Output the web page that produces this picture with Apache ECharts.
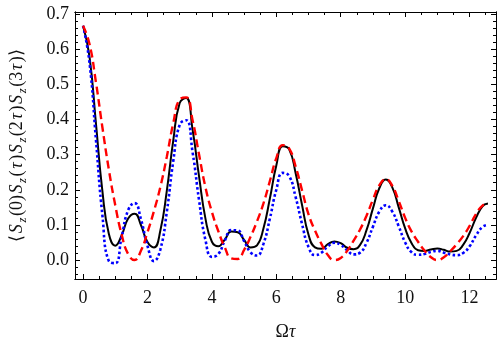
<!DOCTYPE html>
<html>
<head>
<meta charset="utf-8">
<script src="https://cdn.jsdelivr.net/npm/echarts@6/dist/echarts.min.js"></script>
<style>
  html, body { margin: 0; padding: 0; background: #fff; }
  #chart { width: 498px; height: 346px; }
</style>
</head>
<body>
<div id="chart"></div>
<script>
// Omega*tau sample points
var xs = [0, 0.2, 0.4, 0.6, 0.8, 1.0, 1.2, 1.4, 1.6, 1.8,
  2.0, 2.2, 2.4, 2.6, 2.8, 3.0, 3.2, 3.4, 3.6, 3.8,
  4.0, 4.2, 4.4, 4.6, 4.8, 5.0, 5.2, 5.4, 5.6, 5.8,
  6.0, 6.2, 6.4, 6.6, 6.8, 7.0, 7.2, 7.4, 7.6, 7.8,
  8.0, 8.2, 8.4, 8.6, 8.8, 9.0, 9.2, 9.4, 9.6, 9.8,
  10.0, 10.2, 10.4, 10.6, 10.8, 11.0, 11.2, 11.4, 11.6, 11.8,
  12.0, 12.2, 12.4, 12.57];

// black solid curve
var solidBlack = [0.667, 0.579, 0.389, 0.197, 0.075, 0.041, 0.071, 0.118, 0.132, 0.099,
  0.051, 0.036, 0.084, 0.197, 0.340, 0.447, 0.461, 0.371, 0.239, 0.118,
  0.052, 0.039, 0.058, 0.081, 0.079, 0.057, 0.036, 0.042, 0.090, 0.175,
  0.269, 0.324, 0.315, 0.247, 0.156, 0.072, 0.036, 0.032, 0.045, 0.053,
  0.048, 0.035, 0.031, 0.043, 0.085, 0.147, 0.205, 0.229, 0.207, 0.150,
  0.090, 0.048, 0.028, 0.026, 0.030, 0.033, 0.029, 0.024, 0.026, 0.043,
  0.077, 0.120, 0.153, 0.161];

// red dashed curve
var dashedRed = [0.667, 0.615, 0.506, 0.378, 0.258, 0.156, 0.072, 0.017, 0.000, 0.027,
  0.079, 0.139, 0.208, 0.294, 0.389, 0.457, 0.463, 0.398, 0.301, 0.207,
  0.137, 0.082, 0.036, 0.005, 0.003, 0.029, 0.066, 0.110, 0.161, 0.225,
  0.290, 0.327, 0.317, 0.266, 0.198, 0.130, 0.084, 0.046, 0.014, 0.000,
  0.006, 0.026, 0.055, 0.087, 0.126, 0.172, 0.213, 0.230, 0.211, 0.168,
  0.120, 0.081, 0.052, 0.027, 0.008, 0.000, 0.008, 0.025, 0.045, 0.068,
  0.097, 0.131, 0.155, 0.161];

// blue dotted curve
var dottedBlue = [0.667, 0.562, 0.343, 0.128, -0.003, -0.009, 0.067, 0.142, 0.162, 0.115,
  0.040, -0.003, 0.030, 0.137, 0.281, 0.385, 0.398, 0.307, 0.171, 0.057,
  0.009, 0.017, 0.055, 0.085, 0.084, 0.054, 0.022, 0.013, 0.046, 0.118,
  0.200, 0.248, 0.239, 0.179, 0.102, 0.037, 0.014, 0.021, 0.039, 0.049,
  0.043, 0.028, 0.016, 0.021, 0.049, 0.095, 0.138, 0.156, 0.138, 0.096,
  0.050, 0.022, 0.015, 0.017, 0.023, 0.026, 0.021, 0.016, 0.014, 0.020,
  0.039, 0.070, 0.094, 0.100];

var xTicks = [0, 2, 4, 6, 8, 10, 12];
var yTicks = [0, 0.1, 0.2, 0.3, 0.4, 0.5, 0.6, 0.7];

var xMin = -0.25, xMax = 12.82;
var yMin = -0.054, yMax = 0.706;

var xMinor = [];
for (var i = 0; i <= 25; i++) { if (i % 4) xMinor.push(i * 0.5); }
var yMinor = [];
for (var j = -2; j <= 35; j++) { if (j % 5) yMinor.push(+(j * 0.02).toFixed(2)); }

var serif = 'Liberation Serif';
var ink = '#000';
var txt = '#111';

function xAxisDef(pos, ticks, len, withLabels) {
  var a = {
    type: 'value', position: pos, min: xMin, max: xMax,
    splitLine: { show: false },
    axisLine: { show: true, onZero: false, lineStyle: { color: ink, width: 1 } },
    axisTick: { show: true, inside: true, length: len, customValues: ticks, lineStyle: { color: ink, width: 1 } },
    axisLabel: { show: false }
  };
  if (withLabels) {
    a.axisLabel = {
      show: true, customValues: ticks, margin: 10,
      fontFamily: serif, fontSize: 18, color: txt,
      formatter: function (v) { return String(Math.round(v)); }
    };
    a.name = '{o|Ω}{t|τ}';
    a.nameLocation = 'middle';
    a.nameGap = 44;
    a.nameTextStyle = {
      rich: {
        o: { fontFamily: serif, fontSize: 18, color: txt },
        t: { fontFamily: serif, fontSize: 18, fontStyle: 'italic', color: txt }
      }
    };
  }
  return a;
}

function yAxisDef(pos, ticks, len, withLabels) {
  var a = {
    type: 'value', position: pos, min: yMin, max: yMax,
    splitLine: { show: false },
    axisLine: { show: true, onZero: false, lineStyle: { color: ink, width: 1 } },
    axisTick: { show: true, inside: true, length: len, customValues: ticks, lineStyle: { color: ink, width: 1 } },
    axisLabel: { show: false }
  };
  if (withLabels) {
    a.axisLabel = {
      show: true, customValues: ticks, margin: 6,
      fontFamily: serif, fontSize: 18, color: txt,
      formatter: function (v) { return v.toFixed(1); }
    };
    a.name = '{m|⟨}{i|S}{s|z}{m|(0)}{i|S}{s|z}{m|(}{i|τ}{m|)}{i|S}{s|z}{m|(2}{i|τ}{m|)}{i|S}{s|z}{m|(3}{i|τ}{m|)⟩}';
    a.nameLocation = 'middle';
    a.nameRotate = 90;
    a.nameGap = 46;
    var pad = [0, 0.8, 0, 0.8];
    a.nameTextStyle = {
      rich: {
        m: { fontFamily: serif, fontSize: 18, color: txt, lineHeight: 24, verticalAlign: 'middle', padding: pad },
        i: { fontFamily: serif, fontSize: 18, fontStyle: 'italic', color: txt, lineHeight: 24, verticalAlign: 'middle', padding: pad },
        s: { fontFamily: serif, fontSize: 12.5, fontStyle: 'italic', color: txt, lineHeight: 24, verticalAlign: 'bottom', padding: pad }
      }
    };
  }
  return a;
}

function pairs(ys) {
  return xs.map(function (x, k) { return [x, ys[k]]; });
}

var chart = echarts.init(document.getElementById('chart'), null, { renderer: 'canvas' });
chart.setOption({
  backgroundColor: '#fff',
  animation: false,
  grid: { left: 62, right: 2, top: 12, bottom: 64 },
  xAxis: [
    xAxisDef('bottom', xTicks, 5, true),
    xAxisDef('bottom', xMinor, 3, false),
    xAxisDef('top', xTicks, 5, false),
    xAxisDef('top', xMinor, 3, false)
  ],
  yAxis: [
    yAxisDef('left', yTicks, 5, true),
    yAxisDef('left', yMinor, 3, false),
    yAxisDef('right', yTicks, 5, false),
    yAxisDef('right', yMinor, 3, false)
  ],
  series: [
    {
      name: 'solid', type: 'line', data: pairs(solidBlack), smooth: 0.5,
      showSymbol: false, clip: true,
      lineStyle: { color: '#000', width: 2 }
    },
    {
      name: 'dotted', type: 'line', data: pairs(dottedBlue), smooth: 0.5,
      showSymbol: false, clip: true,
      lineStyle: { color: '#0000ff', width: 2.6, type: [2.6, 2.4] }
    },
    {
      name: 'dashed', type: 'line', data: pairs(dashedRed), smooth: 0.5,
      showSymbol: false, clip: true,
      lineStyle: { color: '#ff0000', width: 2.4, type: [8, 4.5] }
    }
  ]
});
</script>
</body>
</html>
